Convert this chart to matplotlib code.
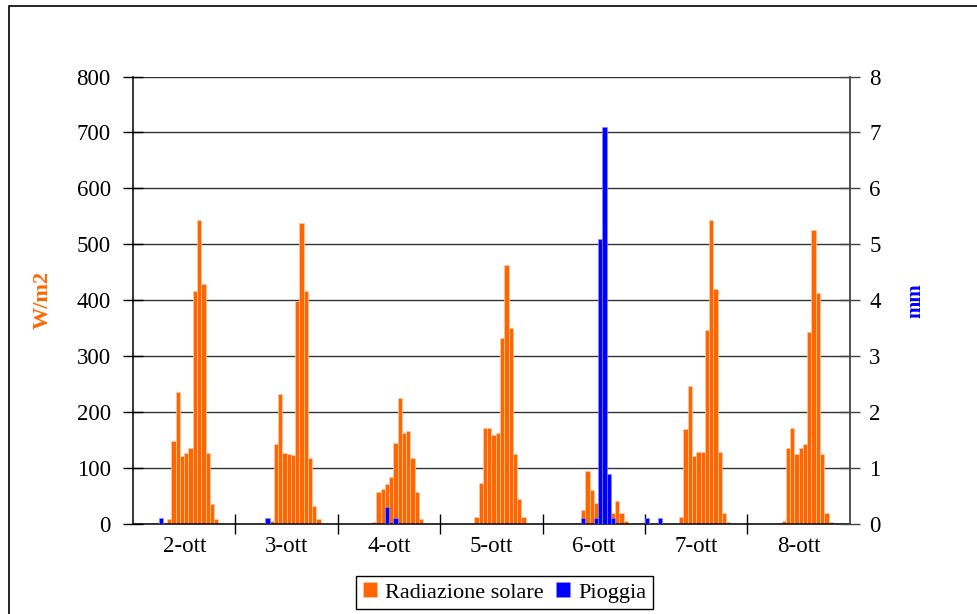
import matplotlib.pyplot as plt
import matplotlib.patches as mpatches
import numpy as np

# font tipo Times, come nel grafico originale
plt.rcParams['font.family'] = 'Liberation Serif'

# giorni e dati orari (24 valori per giorno)
giorni = ['2-ott', '3-ott', '4-ott', '5-ott', '6-ott', '7-ott', '8-ott']

# Radiazione solare (W/m2)
rad_2ott = [0, 0, 0, 0, 0, 0, 0, 0, 9, 148, 236, 121, 127, 135, 416, 544, 429, 127, 36, 9, 0, 0, 0, 0]
rad_3ott = [0, 0, 0, 0, 0, 0, 0, 0, 6, 143, 233, 127, 126, 124, 398, 538, 416, 118, 33, 9, 0, 0, 0, 0]
rad_4ott = [0, 0, 0, 0, 0, 0, 0, 0, 4, 57, 63, 71, 84, 145, 225, 162, 167, 118, 57, 9, 0, 0, 0, 0]
rad_5ott = [0, 0, 0, 0, 0, 0, 0, 0, 12, 73, 171, 171, 159, 162, 332, 463, 351, 126, 45, 12, 0, 0, 0, 0]
rad_6ott = [0, 0, 0, 0, 0, 0, 0, 0, 0, 25, 95, 61, 38, 30, 20, 25, 19, 41, 19, 6, 0, 0, 0, 0]
rad_7ott = [0, 0, 0, 0, 0, 0, 0, 0, 12, 169, 247, 121, 129, 129, 347, 544, 420, 129, 19, 4, 0, 0, 0, 0]
rad_8ott = [0, 0, 0, 0, 0, 0, 0, 0, 6, 135, 171, 126, 135, 143, 343, 525, 413, 126, 20, 4, 0, 0, 0, 0]

# Pioggia (mm)
pio_2ott = [0, 0, 0, 0, 0, 0, 0.1, 0, 0, 0, 0, 0, 0, 0, 0, 0, 0, 0, 0, 0, 0, 0, 0, 0]
pio_3ott = [0, 0, 0, 0, 0, 0, 0, 0.1, 0, 0, 0, 0, 0, 0, 0, 0, 0, 0, 0, 0, 0, 0, 0, 0]
pio_4ott = [0, 0, 0, 0, 0, 0, 0, 0, 0, 0, 0, 0.3, 0, 0.1, 0, 0, 0, 0, 0, 0, 0, 0, 0, 0]
pio_5ott = [0] * 24
pio_6ott = [0, 0, 0, 0, 0, 0, 0, 0, 0, 0.1, 0, 0, 0.1, 5.1, 7.1, 0.9, 0.1, 0, 0, 0, 0, 0, 0, 0]
pio_7ott = [0.1, 0, 0, 0.1, 0, 0, 0, 0, 0, 0, 0, 0, 0, 0, 0, 0, 0, 0, 0, 0, 0, 0, 0, 0]
pio_8ott = [0] * 24

radiazione = np.array(rad_2ott + rad_3ott + rad_4ott + rad_5ott + rad_6ott + rad_7ott + rad_8ott)
pioggia = np.array(pio_2ott + pio_3ott + pio_4ott + pio_5ott + pio_6ott + pio_7ott + pio_8ott)
ore = np.arange(len(radiazione))

ARANCIO = '#FF6600'
BLU = '#0000FF'

fig = plt.figure(figsize=(9.78, 6.14), dpi=100)
ax = fig.add_axes([0.136, 0.1466, 0.733, 0.7288])
ax2 = ax.twinx()

# bordo esterno del grafico (esce a destra e in basso)
fig.patches.append(mpatches.Rectangle((9 / 978, -0.05), 1.2, 1 - 6 / 614 + 0.05,
                                      transform=fig.transFigure, fill=False,
                                      edgecolor='black', linewidth=1.2))

ax.bar(ore, radiazione, width=1.0, align='edge', color=ARANCIO,
       edgecolor='#FFC8A0', linewidth=0.5, label='Radiazione solare', zorder=2)
ax2.bar(ore, pioggia, width=1.0, align='edge', color=BLU,
        edgecolor='#9090FF', linewidth=0.4, label='Pioggia', zorder=3)

ax.set_xlim(0, 168)
ax.set_ylim(0, 800)
ax.set_yticks(np.arange(0, 801, 100))
ax2.set_ylim(0, 8)
ax2.set_yticks(np.arange(0, 9, 1))

# griglia orizzontale
ax.grid(axis='y', color='#333333', linewidth=1.0, zorder=0)
ax.set_axisbelow(True)

# tick principali ai confini dei giorni, etichette al centro
ax.set_xticks(np.arange(24, 168, 24))
ax.set_xticklabels([])
ax.set_xticks(np.arange(12, 168, 24), minor=True)
ax.set_xticklabels(giorni, minor=True)
ax.tick_params(axis='x', which='major', direction='inout', length=14, width=1, color='black')
ax.tick_params(axis='x', which='minor', length=0, pad=9, labelsize=16.5)
ax.tick_params(axis='y', direction='inout', length=14, width=1, pad=9, labelsize=16.5)
ax2.tick_params(axis='y', direction='inout', length=14, width=1, pad=7, labelsize=16.5,
                color='#444444')

for a in (ax, ax2):
    a.spines['top'].set_visible(False)
ax.spines['right'].set_visible(False)
ax2.spines['left'].set_visible(False)
ax2.spines['bottom'].set_visible(False)
ax.spines['left'].set_linewidth(1.1)
ax.spines['bottom'].set_linewidth(1.1)
ax2.spines['right'].set_color('#444444')
ax2.spines['right'].set_linewidth(1.3)

ax.set_ylabel('W/m2', color=ARANCIO, fontweight='bold', fontsize=16)
ax.yaxis.set_label_coords(-0.1116, 0.5)
ax2.set_ylabel('mm', color=BLU, fontweight='bold', fontsize=15)
ax2.yaxis.set_label_coords(1.078, 0.5)

h1, l1 = ax.get_legend_handles_labels()
h2, l2 = ax2.get_legend_handles_labels()
leg = fig.legend(h1 + h2, l1 + l2, loc='center', bbox_to_anchor=(0.5159, 0.035),
                 ncol=2, fontsize=16, frameon=True, fancybox=False, edgecolor='black',
                 framealpha=1, handlelength=0.65, handleheight=0.65, handletextpad=0.35,
                 columnspacing=0.55, borderpad=0.3, borderaxespad=0)
leg.get_frame().set_linewidth(1.0)

plt.savefig('out.png', dpi=100)
